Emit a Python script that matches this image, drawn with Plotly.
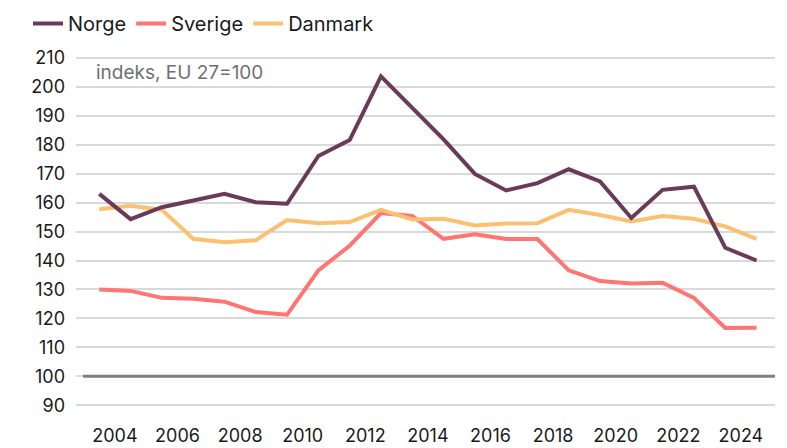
import plotly.graph_objects as go

years = list(range(2003, 2025))
norge = [163.0, 154.3, 158.4, 160.8, 163.0, 160.1, 159.6, 176.1, 181.6, 203.6, 192.5,
         181.8, 169.9, 164.2, 166.7, 171.5, 167.3, 154.7, 164.4, 165.5, 144.4, 140.0]
sverige = [130.0, 129.5, 127.1, 126.8, 125.8, 122.2, 121.3, 136.6, 145.1, 156.4, 155.4,
           147.5, 149.1, 147.4, 147.4, 136.6, 132.9, 132.1, 132.3, 127.1, 116.7, 116.8]
danmark = [157.7, 158.9, 157.5, 147.5, 146.3, 147.0, 154.0, 152.9, 153.3, 157.5, 154.2,
           154.4, 152.1, 152.8, 152.9, 157.5, 155.7, 153.5, 155.4, 154.4, 151.8, 147.5]
tick_labels = [str(y) for y in range(2004, 2025, 2)]
y_ticks = list(range(90, 211, 10))

FONT = "Inter"
fig = go.Figure()
# drawing order: Sverige, Danmark, Norge (legend order kept via legendrank)
for name, vals, col, rank in [("Sverige", sverige, "#FF7572", 2),
                              ("Danmark", danmark, "#FAC171", 3),
                              ("Norge", norge, "#6B3A59", 1)]:
    fig.add_trace(go.Scatter(x=years, y=vals, name=name, mode="lines", legendrank=rank,
                             line=dict(color=col, width=4)))

# EU=100 reference line
fig.add_shape(type="line", xref="paper", yref="y", x0=0.01, x1=1, y0=100, y1=100,
              line=dict(color="#7F7F7F", width=3), layer="above")

fig.add_annotation(text="indeks, EU 27=100", xref="paper", yref="y", x=0.026, y=205,
                   showarrow=False, xanchor="left", yanchor="middle",
                   font=dict(family=FONT, size=19, color="#707070"))

W, H = 779, 440
T, B = 44, 34
PH = H - T - B
fig.update_layout(
    width=W, height=H,
    margin=dict(l=68, r=12, t=T, b=B, autoexpand=False),
    paper_bgcolor="white", plot_bgcolor="white",
    font=dict(family=FONT, size=18, color="#1a1a1a"),
    showlegend=True,
    legend=dict(orientation="h", xref="container", yref="paper",
                x=20 / W, y=1 + (T + 4) / PH, xanchor="left", yanchor="top",
                font=dict(family=FONT, size=20, color="#1a1a1a"),
                itemwidth=30, tracegroupgap=0),
)
fig.update_xaxes(range=[2002.256, 2024.59], tickvals=[int(t) - 0.5 for t in tick_labels],
                 ticktext=tick_labels, showgrid=False, zeroline=False, showline=False,
                 ticks="", ticklabelstandoff=9)
fig.update_yaxes(range=[87, 212], tickvals=y_ticks, showgrid=True, gridcolor="#D9D9D9",
                 gridwidth=1.5, zeroline=False, showline=False, ticks="",
                 ticklabelstandoff=10)

fig.write_html("out.html")
